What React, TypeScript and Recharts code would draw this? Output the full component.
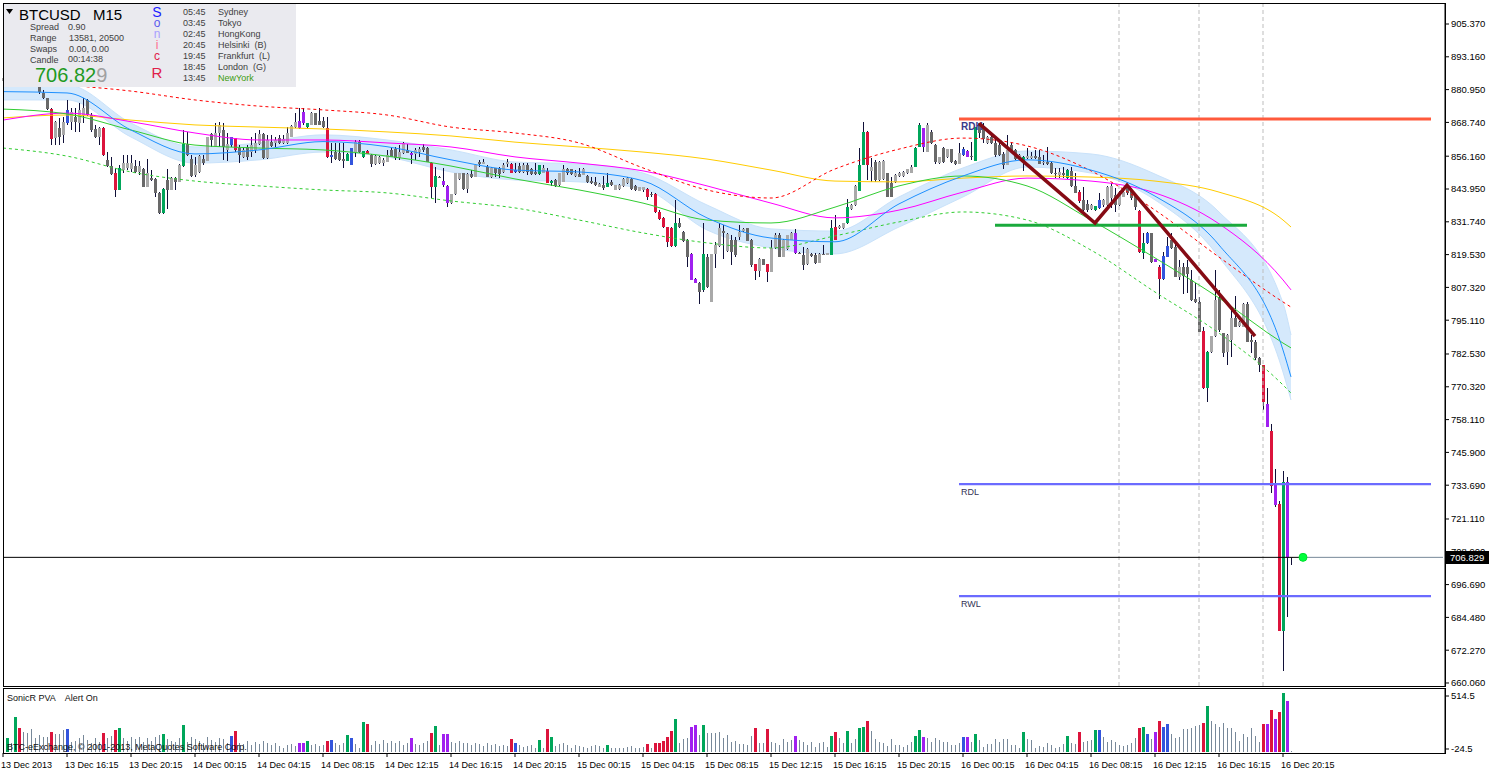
import React from 'react'
import { ComposedChart, Bar, Line, Area, XAxis, YAxis, ReferenceLine, ReferenceDot } from 'recharts'

const FONT = '"Liberation Sans", Arial, sans-serif'
const SLOTS = 361

// M15 candles: [open, high, low, close, type]  u/d plain up/down, G/R climax, B/P rising volume
const candlesA = [
  [884.0, 886.0, 883.2, 885.2, 'u'], [885.0, 889.5, 884.6, 888.6, 'G'], [888.5, 890.0, 887.0, 889.2, 'u'], [888.8, 894.0, 888.0, 892.7, 'G'],
  [892.5, 893.0, 884.5, 885.5, 'R'], [885.6, 887.5, 883.5, 884.4, 'd'], [884.4, 887.0, 883.6, 886.2, 'u'], [886.0, 886.5, 883.3, 883.9, 'd'],
  [883.9, 885.8, 883.0, 885.0, 'u'], [885.0, 885.8, 879.5, 880.0, 'd'], [879.8, 880.8, 877.3, 877.7, 'd'], [877.7, 877.9, 873.3, 873.6, 'd'],
  [873.6, 874.0, 860.3, 862.7, 'R'], [862.8, 869.3, 860.3, 869.0, 'u'], [866.5, 870.2, 860.3, 863.2, 'd'], [864.0, 870.9, 860.9, 869.0, 'u'],
  [868.4, 877.1, 867.8, 873.4, 'B'], [869.0, 874.0, 865.9, 872.7, 'u'], [870.9, 874.0, 865.3, 869.0, 'd'], [868.4, 875.8, 865.3, 873.4, 'u'],
  [871.5, 877.7, 868.4, 874.0, 'u'], [877.1, 877.3, 871.3, 871.5, 'd'], [871.5, 872.1, 865.3, 865.9, 'd'], [866.2, 867.8, 863.0, 863.2, 'd'],
  [863.2, 867.1, 860.3, 866.5, 'u'], [866.5, 867.1, 856.4, 856.6, 'R'], [854.7, 857.9, 852.2, 852.5, 'd'], [852.5, 856.0, 849.2, 849.5, 'd'],
  [850.0, 851.6, 840.9, 843.6, 'R'], [843.6, 852.9, 843.4, 851.6, 'G'], [851.0, 856.6, 849.8, 853.5, 'u'], [851.6, 856.6, 851.0, 853.5, 'u'],
  [851.3, 856.6, 850.4, 853.5, 'u'], [852.5, 854.7, 849.8, 850.4, 'd'], [850.4, 854.5, 849.2, 852.5, 'u'], [851.3, 851.6, 844.6, 844.8, 'd'],
  [844.8, 855.0, 844.6, 850.0, 'u'], [847.9, 851.0, 847.1, 847.3, 'd'], [847.5, 847.9, 841.1, 842.3, 'd'], [842.3, 842.9, 834.7, 834.9, 'd'],
  [834.9, 844.2, 834.7, 843.8, 'G'], [847.3, 851.3, 836.4, 843.6, 'd'], [843.6, 848.5, 843.4, 847.9, 'u'], [847.9, 848.3, 843.6, 846.7, 'd'],
  [846.7, 853.1, 846.5, 852.9, 'u'], [852.5, 865.9, 852.3, 860.7, 'G'], [860.7, 865.3, 856.4, 856.6, 'd'], [855.0, 856.6, 848.5, 848.8, 'd'],
  [849.2, 856.0, 848.5, 852.9, 'u'], [850.4, 856.6, 850.0, 856.2, 'u'], [855.0, 856.6, 852.9, 853.5, 'd'], [854.5, 863.4, 854.3, 863.2, 'u'],
  [864.4, 864.7, 859.7, 862.2, 'd'], [859.7, 868.4, 859.5, 864.7, 'u'], [864.7, 869.0, 859.7, 867.8, 'u'], [865.9, 868.6, 854.7, 859.7, 'd'],
  [858.5, 864.7, 854.5, 860.7, 'u'], [860.3, 863.4, 859.7, 863.2, 'B'], [862.8, 863.0, 857.8, 858.5, 'R'], [859.1, 860.3, 853.5, 856.6, 'd'],
  [856.0, 859.7, 855.4, 858.5, 'u'], [859.7, 860.3, 854.7, 856.0, 'd'], [857.9, 863.4, 856.0, 860.3, 'u'], [858.5, 864.7, 857.2, 861.2, 'u'],
  [860.7, 865.9, 860.5, 864.4, 'u'], [864.4, 864.7, 855.2, 855.4, 'd'], [855.4, 864.0, 855.2, 862.2, 'u'], [861.6, 864.0, 859.7, 860.0, 'd'],
  [860.9, 863.4, 859.7, 862.2, 'u'], [862.8, 864.0, 860.7, 860.9, 'd'], [860.9, 864.0, 860.7, 862.4, 'u'], [860.9, 867.2, 860.7, 864.7, 'u'],
  [863.4, 867.8, 863.2, 867.4, 'u'], [867.2, 872.1, 866.5, 869.0, 'u'], [869.4, 874.0, 866.3, 866.5, 'P'], [872.7, 874.0, 867.8, 868.4, 'P'],
  [866.9, 868.6, 866.7, 868.4, 'G'], [867.8, 872.7, 867.6, 872.1, 'u'], [872.1, 872.4, 867.6, 867.8, 'd'], [869.4, 874.0, 867.6, 867.8, 'd'],
]

const candlesB = [
  [869.4, 870.6, 866.7, 866.9, 'd'], [866.5, 870.6, 855.5, 855.7, 'R'], [855.9, 860.9, 853.8, 856.6, 'B'], [857.9, 860.9, 854.7, 855.0, 'd'],
  [857.2, 860.9, 854.5, 854.7, 'd'], [855.0, 860.9, 851.6, 854.5, 'd'], [854.5, 857.2, 854.3, 857.0, 'G'], [852.9, 859.1, 852.7, 859.1, 'B'],
  [857.9, 862.2, 856.0, 861.6, 'u'], [861.6, 862.2, 857.2, 857.9, 'd'], [855.7, 858.2, 855.5, 858.2, 'G'], [858.2, 858.4, 857.0, 857.0, 'R'],
  [856.6, 856.8, 852.3, 853.3, 'd'], [853.3, 856.6, 852.9, 856.2, 'u'], [853.5, 856.2, 853.3, 856.0, 'u'], [853.5, 855.4, 852.5, 854.7, 'u'],
  [854.1, 858.5, 853.9, 856.6, 'u'], [858.5, 859.1, 855.7, 856.0, 'd'], [858.7, 859.7, 854.7, 855.4, 'd'], [855.4, 860.3, 854.7, 857.9, 'u'],
  [857.2, 861.6, 857.0, 860.9, 'u'], [858.5, 860.7, 857.2, 857.5, 'd'], [857.5, 857.9, 853.3, 856.6, 'P'], [857.0, 859.1, 854.7, 858.5, 'u'],
  [857.8, 859.7, 856.0, 858.7, 'u'], [859.7, 860.7, 857.8, 858.5, 'd'], [859.1, 859.7, 853.9, 854.1, 'd'], [853.8, 854.1, 840.5, 844.8, 'R'],
  [844.8, 852.3, 838.6, 848.8, 'G'], [848.5, 848.8, 848.0, 848.3, 'd'], [847.0, 851.6, 844.8, 845.4, 'P'], [845.1, 845.3, 837.1, 838.6, 'P'],
  [838.6, 842.1, 838.4, 842.1, 'u'], [842.1, 850.0, 841.7, 849.8, 'u'], [847.5, 850.0, 847.3, 849.8, 'u'], [849.8, 850.0, 843.6, 843.8, 'd'],
  [843.8, 849.8, 842.3, 849.5, 'u'], [849.5, 851.0, 847.9, 848.3, 'd'], [848.5, 852.9, 848.3, 852.9, 'u'], [854.1, 854.7, 852.3, 853.3, 'd'],
  [853.3, 855.0, 853.3, 854.1, 'u'], [852.3, 852.9, 848.3, 848.3, 'd'], [848.3, 852.3, 847.9, 851.6, 'u'], [851.6, 851.8, 848.3, 849.8, 'd'],
  [851.6, 852.3, 847.9, 849.5, 'd'], [850.4, 853.5, 849.8, 852.9, 'u'], [853.3, 855.0, 852.3, 854.1, 'u'], [853.3, 853.5, 849.8, 850.0, 'R'],
  [850.4, 853.8, 850.0, 851.0, 'B'], [852.5, 853.5, 850.0, 850.4, 'd'], [850.4, 853.5, 850.0, 852.9, 'u'], [852.9, 853.5, 849.2, 850.4, 'd'],
  [851.3, 851.6, 849.2, 849.5, 'd'], [850.4, 853.5, 849.2, 849.5, 'd'], [849.5, 852.9, 849.2, 852.9, 'G'], [850.0, 852.9, 849.8, 851.6, 'u'],
  [850.8, 851.6, 846.1, 846.3, 'R'], [846.3, 847.3, 845.1, 847.1, 'G'], [847.3, 847.5, 844.6, 845.1, 'd'], [845.4, 849.8, 845.1, 849.8, 'u'],
  [846.7, 852.9, 846.5, 851.3, 'u'], [851.3, 851.6, 849.2, 849.8, 'd'], [851.3, 851.5, 849.2, 849.5, 'd'], [848.8, 851.0, 848.5, 850.0, 'u'],
  [849.5, 851.6, 848.3, 848.5, 'd'], [849.2, 851.6, 849.0, 851.3, 'u'], [848.8, 849.2, 846.1, 846.7, 'd'], [847.1, 848.5, 845.8, 846.3, 'd'],
  [846.7, 848.5, 845.1, 845.4, 'd'], [844.8, 846.3, 844.6, 845.8, 'u'], [845.4, 848.8, 843.6, 844.2, 'd'], [844.8, 849.8, 844.6, 846.3, 'G'],
  [846.7, 847.3, 845.1, 845.4, 'd'], [843.6, 845.6, 843.4, 845.4, 'u'], [843.8, 845.8, 843.6, 845.4, 'u'], [845.1, 847.9, 844.8, 847.5, 'u'],
  [846.3, 848.5, 845.8, 847.9, 'u'], [847.5, 847.9, 843.6, 843.8, 'd'], [845.1, 845.4, 843.3, 843.6, 'd'], [843.3, 844.8, 843.1, 844.6, 'u'],
]

const candlesC = [
  [843.6, 844.8, 843.0, 844.6, 'u'], [843.8, 844.2, 839.9, 840.9, 'R'], [842.1, 842.9, 841.1, 841.7, 'd'], [842.1, 842.3, 834.9, 835.5, 'R'],
  [835.5, 836.1, 832.4, 832.7, 'R'], [833.1, 833.7, 829.3, 829.7, 'R'], [829.7, 829.9, 822.5, 824.3, 'R'], [829.3, 829.7, 822.5, 822.7, 'R'],
  [822.7, 839.9, 822.5, 831.2, 'G'], [831.4, 833.1, 829.3, 829.7, 'd'], [828.1, 828.3, 824.3, 824.7, 'd'], [825.0, 825.2, 814.8, 818.8, 'd'],
  [819.8, 820.0, 809.9, 810.1, 'P'], [810.3, 810.7, 808.8, 809.1, 'P'], [809.1, 809.5, 801.1, 805.7, 'd'], [806.4, 831.2, 805.7, 819.8, 'G'],
  [818.8, 819.8, 807.0, 807.6, 'd'], [802.0, 819.8, 801.8, 819.8, 'u'], [819.8, 824.3, 814.4, 823.1, 'u'], [822.7, 831.2, 822.5, 829.3, 'u'],
  [828.4, 830.5, 817.8, 827.7, 'd'], [821.0, 827.5, 820.6, 827.2, 'u'], [825.0, 826.8, 815.7, 820.6, 'd'], [825.0, 826.2, 818.8, 819.4, 'd'],
  [826.0, 830.5, 825.0, 828.1, 'u'], [828.4, 829.3, 828.1, 828.9, 'u'], [829.3, 829.5, 824.5, 824.7, 'd'], [825.0, 825.2, 815.0, 815.7, 'd'],
  [816.0, 816.2, 810.1, 813.6, 'R'], [813.6, 818.1, 811.3, 818.0, 'u'], [817.8, 818.0, 815.5, 815.7, 'd'], [816.0, 816.2, 809.5, 813.2, 'R'],
  [813.2, 825.0, 813.0, 821.9, 'u'], [821.9, 827.5, 821.5, 826.8, 'u'], [826.8, 827.7, 818.5, 818.8, 'd'], [818.8, 825.2, 818.6, 825.0, 'u'],
  [821.5, 827.0, 821.3, 826.8, 'u'], [825.0, 827.9, 824.8, 827.7, 'u'], [827.5, 828.9, 819.8, 820.0, 'P'], [820.3, 820.5, 819.6, 819.8, 'd'],
  [819.4, 822.5, 813.8, 815.7, 'd'], [816.0, 821.9, 815.7, 821.5, 'u'], [819.8, 820.2, 818.8, 819.0, 'd'], [819.4, 820.0, 816.0, 816.3, 'd'],
  [816.5, 820.0, 816.3, 819.8, 'u'], [819.8, 823.1, 819.2, 819.4, 'd'], [819.4, 820.2, 819.2, 820.0, 'u'], [819.4, 832.4, 819.2, 829.3, 'G'],
  [829.9, 834.3, 824.8, 825.0, 'R'], [829.3, 830.4, 829.1, 830.2, 'u'], [829.3, 831.4, 829.1, 831.2, 'u'], [831.2, 840.1, 831.0, 837.1, 'G'],
  [836.4, 838.2, 836.2, 838.0, 'u'], [838.0, 845.3, 837.8, 845.1, 'u'], [843.3, 859.1, 843.1, 852.9, 'G'], [852.9, 869.0, 852.7, 865.3, 'G'],
  [865.3, 865.5, 847.3, 852.9, 'R'], [850.8, 855.4, 846.7, 852.3, 'u'], [854.1, 854.7, 846.7, 847.3, 'd'], [847.3, 854.3, 847.1, 854.1, 'u'],
  [847.5, 854.6, 847.3, 854.4, 'u'], [849.8, 850.0, 840.9, 841.1, 'd'], [846.1, 848.5, 840.9, 841.1, 'd'], [846.7, 849.5, 846.1, 849.2, 'u'],
  [848.8, 850.2, 848.6, 850.0, 'u'], [848.8, 850.6, 848.6, 850.4, 'u'], [849.8, 851.5, 849.6, 851.3, 'u'], [850.0, 852.9, 849.8, 852.3, 'u'],
  [852.3, 859.7, 852.1, 859.1, 'G'], [859.7, 868.6, 859.5, 867.8, 'G'], [866.5, 866.7, 857.9, 859.7, 'P'], [857.9, 868.4, 857.7, 867.8, 'u'],
  [865.3, 865.9, 860.7, 860.9, 'd'], [860.3, 860.7, 853.3, 854.1, 'd'], [853.5, 855.9, 853.3, 855.7, 'u'], [859.1, 859.7, 853.5, 854.1, 'd'],
  [855.7, 858.9, 855.5, 858.7, 'u'], [858.7, 858.9, 853.5, 854.1, 'd'], [854.5, 854.7, 852.9, 853.3, 'd'], [853.3, 861.0, 853.1, 857.2, 'u'],
]

const candlesD = [
  [856.6, 859.7, 856.4, 858.7, 'B'], [858.2, 858.5, 855.7, 856.0, 'P'], [856.2, 861.6, 854.7, 855.7, 'd'], [854.5, 867.1, 854.3, 866.9, 'G'],
  [868.4, 868.6, 862.8, 864.7, 'd'], [866.5, 868.4, 861.0, 862.4, 'd'], [861.0, 863.6, 860.8, 863.4, 'u'], [863.4, 864.0, 860.8, 861.0, 'd'],
  [861.0, 862.8, 856.0, 856.6, 'd'], [860.3, 861.0, 856.4, 856.6, 'd'], [857.0, 857.8, 851.3, 852.9, 'd'], [852.9, 864.0, 852.7, 858.5, 'u'],
  [860.3, 861.0, 857.5, 857.8, 'd'], [858.5, 858.7, 854.8, 855.0, 'd'], [855.0, 856.8, 854.8, 856.6, 'u'], [854.5, 856.2, 850.8, 856.0, 'G'],
  [855.4, 859.1, 855.0, 856.2, 'u'], [855.4, 857.8, 855.0, 856.2, 'u'], [856.2, 858.5, 855.0, 855.4, 'd'], [856.0, 858.5, 853.1, 853.3, 'd'],
  [853.5, 856.6, 852.9, 854.1, 'u'], [854.1, 859.7, 852.9, 853.3, 'd'], [853.5, 854.1, 849.5, 849.8, 'd'], [849.8, 851.6, 847.9, 849.4, 'd'],
  [849.2, 851.6, 847.9, 850.4, 'u'], [849.8, 852.3, 847.9, 849.2, 'd'], [847.9, 851.3, 847.7, 851.0, 'G'], [850.8, 852.3, 844.8, 845.1, 'd'],
  [845.1, 849.8, 842.3, 842.6, 'd'], [843.0, 843.6, 838.9, 839.6, 'R'], [839.9, 844.6, 835.9, 836.1, 'd'], [838.4, 839.9, 835.5, 836.1, 'd'],
  [836.4, 838.2, 836.2, 838.0, 'u'], [836.1, 837.8, 835.9, 837.6, 'G'], [836.8, 842.3, 836.5, 839.9, 'B'], [838.0, 840.1, 837.4, 839.9, 'u'],
  [838.0, 845.0, 837.8, 844.8, 'u'], [840.5, 846.3, 836.8, 845.1, 'u'], [841.7, 844.2, 835.5, 838.0, 'd'], [838.0, 843.2, 837.8, 843.0, 'u'],
  [841.1, 843.2, 840.9, 843.0, 'u'], [844.8, 845.4, 841.7, 842.3, 'd'], [843.6, 844.2, 839.9, 840.5, 'd'], [841.7, 842.3, 836.1, 837.4, 'd'],
  [835.9, 836.1, 820.0, 820.6, 'R'], [820.0, 827.5, 817.8, 823.7, 'G'], [823.7, 828.1, 823.5, 827.5, 'B'], [827.5, 827.7, 816.5, 816.9, 'd'],
  [817.8, 817.9, 816.8, 816.9, 'P'], [815.0, 815.7, 802.9, 810.3, 'R'], [810.3, 820.6, 810.1, 819.0, 'B'], [818.8, 826.2, 818.5, 822.7, 'B'],
  [825.0, 827.5, 821.5, 821.9, 'd'], [822.5, 823.7, 811.1, 811.3, 'd'], [811.3, 817.5, 810.1, 815.0, 'u'], [815.0, 816.3, 805.0, 811.5, 'd'],
  [815.0, 817.5, 805.1, 812.3, 'd'], [810.1, 813.8, 802.4, 802.6, 'd'], [802.9, 808.8, 801.4, 802.0, 'd'], [802.0, 803.9, 790.6, 790.8, 'd'],
  [791.2, 792.7, 769.5, 769.7, 'R'], [769.7, 783.6, 764.8, 783.4, 'G'], [783.4, 789.4, 783.0, 789.2, 'u'], [789.2, 813.8, 789.0, 802.6, 'u'],
  [803.2, 806.4, 790.8, 791.5, 'd'], [790.2, 790.4, 781.5, 782.8, 'd'], [783.4, 789.8, 778.4, 789.6, 'u'], [787.7, 799.5, 781.5, 795.8, 'u'],
  [795.8, 804.1, 792.5, 792.7, 'd'], [792.9, 794.9, 792.5, 794.6, 'u'], [792.7, 801.4, 792.5, 801.1, 'u'], [801.1, 802.0, 786.9, 787.1, 'd'],
  [787.7, 789.6, 782.8, 787.1, 'd'], [787.1, 787.7, 780.3, 780.9, 'd'], [780.9, 781.5, 775.9, 778.4, 'd'], [778.4, 778.6, 761.7, 764.8, 'R'],
  [763.9, 769.8, 755.3, 755.5, 'P'], [754.0, 756.6, 730.8, 733.4, 'R'], [733.8, 739.6, 725.7, 726.3, 'P'], [726.7, 727.9, 679.3, 679.5, 'R'],
  [679.5, 739.1, 664.6, 735.0, 'G'], [735.0, 736.9, 684.7, 706.5, 'P'], [706.5, 706.9, 703.8, 706.829, 'u'],
]

// SonicR PVA volume, one value per candle
const volA = [16, 84, 33, 297, 185, 152, 141, 175, 84, 118, 101, 94, 145, 128, 128, 169, 175, 50, 60, 84,
  118, 67, 33, 84, 50, 135, 84, 107, 169, 185, 84, 60, 101, 74, 94, 50, 84, 60, 94, 118,
  128, 74, 60, 50, 84, 220, 50, 101, 74, 60, 33, 94, 67, 50, 84, 74, 40, 107, 158, 40,
  26, 57, 16, 50, 26, 57, 33, 16, 40, 6, -18, 16, 26, 6, 40, 40, 57, 16, 26, 6]
const volB = [16, 57, 67, 33, 16, 40, 118, 84, 26, -10, 253, 230, 16, 60, 26, 67, 40, 60, 40, 57,
  16, 40, 84, 26, 16, 40, 57, 141, 209, 16, 128, 128, 50, 40, 60, 33, 40, 16, 33, 26,
  6, 33, 16, 26, 6, 16, 6, 74, 40, 16, 0, 6, 16, -10, 67, -18, 179, 94, 6, 26,
  40, 16, -10, 16, 6, 0, -18, 6, 16, 6, -10, 16, -18, -10, -18, -10, 0, 6, -10, -18]
const volC = [0, 26, -10, 40, 40, 60, 101, 158, 277, 40, 74, 84, 196, 220, 118, 220, 135, 135, 135, 152,
  84, 118, 50, 57, 26, 26, 16, 107, 185, 33, 40, 179, 50, 40, 16, 74, 50, 67, 107, 67,
  50, 16, 50, 0, 40, 50, 0, 107, 145, 84, 33, 158, 33, 74, 185, 196, 260, 158, 74, 50,
  40, 6, 74, 16, 16, 0, 16, 50, 107, 169, 94, 84, 50, 84, 67, 50, 50, 16, 16, 33]
const volD = [94, 94, 50, 128, 67, 0, 26, 26, 74, 50, 74, 74, 16, 16, -18, 145, 74, 67, -18, 6,
  0, 40, 16, -18, 0, 26, 107, 33, 26, 145, 50, 60, 67, 169, 169, 94, 50, 67, 50, 16,
  6, 16, 33, 84, 185, 196, 128, 74, 145, 260, 196, 230, 128, 84, 94, 175, 175, 185, 213, 219,
  243, 413, 260, 226, 202, 243, 185, 185, 145, 60, 128, 94, 185, 107, 50, 230, 230, 372, 277, 348,
  541, 463, -45]

// moving averages, read at the time ticks and at the last bar
const maIdx = [0, 16, 32, 48, 64, 80, 96, 112, 128, 144, 160, 176, 192, 208, 224, 240, 256, 272, 288, 304, 320, 322]
const yellowMA = [870.4, 871.5, 869.6, 867.8, 867.0, 866.3, 865.2, 863.7, 861.4, 859.6, 857.7, 855.1, 851.0, 846.9, 846.6, 848.0, 848.8, 848.4, 846.9, 842.8, 832.4, 829.8]
const magentaMA = [869.6, 872.2, 869.0, 864.8, 862.2, 862.2, 861.1, 859.6, 855.9, 853.6, 850.7, 845.1, 838.7, 833.2, 836.1, 842.8, 848.0, 846.9, 842.5, 831.0, 810.1, 806.4]
const greenMA = [873.7, 871.9, 865.9, 860.3, 859.2, 858.5, 856.2, 852.5, 847.7, 843.6, 838.7, 832.4, 831.3, 837.2, 845.1, 848.8, 845.1, 832.4, 818.3, 803.4, 786.6, 784.8]
const greenDashMA = [859.2, 856.2, 850.3, 846.9, 845.1, 843.6, 842.5, 839.5, 836.9, 832.4, 827.6, 823.9, 822.0, 826.5, 831.7, 835.4, 832.4, 821.2, 805.6, 790.3, 771.0, 768.0]
const redDashMA = [885.3, 882.7, 880.4, 877.1, 874.8, 873.4, 871.5, 867.0, 864.8, 861.1, 851.8, 843.6, 840.6, 851.4, 858.8, 862.9, 860.0, 850.7, 836.1, 818.6, 801.9, 800.0]
const blueMA = [880.2, 879.7, 865.9, 857.0, 858.5, 861.6, 859.7, 854.8, 851.0, 850.3, 847.0, 833.2, 825.7, 824.3, 838.4, 848.8, 854.8, 851.0, 841.3, 823.1, 784.0, 774.0]
const bandHi = [882.0, 882.7, 868.5, 859.6, 861.1, 864.1, 862.2, 858.5, 854.0, 853.3, 849.9, 838.0, 829.1, 828.3, 841.0, 851.8, 858.1, 857.0, 849.5, 835.4, 801.5, 789.6]
const bandLo = [877.1, 877.1, 863.3, 853.6, 854.8, 857.7, 855.9, 850.3, 847.3, 846.6, 844.0, 828.7, 822.0, 819.8, 829.8, 841.0, 852.1, 849.9, 839.9, 818.6, 775.8, 765.4]

// drawn objects
const zigIdx = [244, 273, 281, 313]
const zigVal = [868.4, 831.3, 845.4, 789.2]
const sessionIdx = [279, 299, 315]
const rdhLevel = 870.0
const supportLevel = 830.5
const rdlLevel = 734.1
const rwlLevel = 692.4
const bid = 706.829

const priceTicks = [905.37, 893.16, 880.95, 868.74, 856.16, 843.95, 831.74, 819.53, 807.32, 795.11, 782.53, 770.32, 758.11, 745.9, 733.69, 721.11, 708.9, 696.69, 684.48, 672.27, 660.06]
const volTicks = [514.5, -24.5]
const timeTickIdx = [0, 16, 32, 48, 64, 80, 96, 112, 128, 144, 160, 176, 192, 208, 224, 240, 256, 272, 288, 304, 320]
const timeLabels = ['13 Dec 2013', '13 Dec 16:15', '13 Dec 20:15', '14 Dec 00:15', '14 Dec 04:15', '14 Dec 08:15', '14 Dec 12:15',
  '14 Dec 16:15', '14 Dec 20:15', '15 Dec 00:15', '15 Dec 04:15', '15 Dec 08:15', '15 Dec 12:15', '15 Dec 16:15', '15 Dec 20:15',
  '16 Dec 00:15', '16 Dec 04:15', '16 Dec 08:15', '16 Dec 12:15', '16 Dec 16:15', '16 Dec 20:15']

const sessions = [['05:45', 'Sydney'], ['03:45', 'Tokyo'], ['02:45', 'HongKong'], ['20:45', 'Helsinki  (B)'], ['19:45', 'Frankfurt  (L)'], ['18:45', 'London  (G)'], ['13:45', 'NewYork']]
const sonicLetters = [['S', '#2020ff'], ['o', '#5a5aee'], ['n', '#a8a0ff'], ['i', '#ff7090'], ['c', '#e0204a'], ['R', '#e0204a']]

const PRICE_DOMAIN = [658.94, 913.19]
const VOL_DOMAIN = [-65.2, 585.7]
const VOL_FLOOR = -50

const bodyColors: Record<string, string> = { u: '#a9a9a9', d: '#696969', G: '#00a65a', R: '#dc143c', B: '#3355dd', P: '#a020f0' }
const WICK = '#101038'

const candles: any[] = [...candlesA, ...candlesB, ...candlesC, ...candlesD]
const vols = [...volA, ...volB, ...volC, ...volD]

const rows = Array.from({ length: SLOTS }, (_, i) => {
  const c = candles[i]
  const m = maIdx.indexOf(i)
  const z = zigIdx.indexOf(i)
  return {
    i,
    o: c ? c[0] : null,
    h: c ? c[1] : null,
    l: c ? c[2] : null,
    c: c ? c[3] : null,
    t: c ? c[4] : null,
    v: i < vols.length ? vols[i] : null,
    yellow: m >= 0 ? yellowMA[m] : null,
    magenta: m >= 0 ? magentaMA[m] : null,
    green: m >= 0 ? greenMA[m] : null,
    greenDash: m >= 0 ? greenDashMA[m] : null,
    redDash: m >= 0 ? redDashMA[m] : null,
    blue: m >= 0 ? blueMA[m] : null,
    band: m >= 0 ? [bandLo[m], bandHi[m]] : null,
    zig: z >= 0 ? zigVal[z] : null,
  }
})

function Candle(props: any) {
  const { x, y, width, height, payload } = props
  if (!payload || payload.h == null) return null
  const cx = Math.round(x + width / 2)
  const top = Math.min(y, y + height)
  const span = Math.abs(height)
  const k = span > 0.5 ? span / (payload.h - payload.l) : 683 / (PRICE_DOMAIN[1] - PRICE_DOMAIN[0])
  const yo = top + (payload.h - payload.o) * k
  const yc = top + (payload.h - payload.c) * k
  const bt = Math.min(yo, yc)
  const bh = Math.max(1, Math.abs(yc - yo))
  return (
    <g shapeRendering="crispEdges">
      <rect x={cx} y={top} width={1} height={Math.max(1, span)} fill={WICK} />
      <rect x={cx - 1} y={bt} width={3} height={bh} fill={bodyColors[payload.t]} />
    </g>
  )
}

function VolumeBar(props: any) {
  const { x, y, width, height, payload } = props
  if (!payload || payload.v == null) return null
  const cx = Math.round(x + width / 2)
  const top = Math.min(y, y + height)
  const plain = payload.t === 'u' || payload.t === 'd'
  return (
    <rect x={plain ? cx : cx - 1} y={top} width={plain ? 1 : 3} height={Math.max(1, Math.abs(height))}
      fill={plain ? '#778899' : bodyColors[payload.t]} shapeRendering="crispEdges" />
  )
}

function TimeTick(props: any) {
  const { x, y, payload } = props
  const label = timeLabels[timeTickIdx.indexOf(payload.value)]
  return <text x={x - 2} y={y + 9} fontSize={9} fontFamily={FONT} fill="#000">{label}</text>
}

const lineLabel = (text: string, bold: boolean) => (p: any) => (
  <text x={p.viewBox.x + 2} y={p.viewBox.y + 10.5} fontSize={bold ? 10 : 9} fontWeight={bold ? 700 : 400}
    fontFamily={FONT} fill={bold ? '#3a3a8a' : '#333355'}>{text}</text>
)

function Txt({ x, cy, size, color = '#404040', children }: any) {
  const lh = Math.round(size * 0.85)
  return (
    <div style={{ position: 'absolute', left: x, top: cy - lh / 2, fontSize: size, lineHeight: `${lh}px`, color, fontFamily: FONT, whiteSpace: 'pre' }}>
      {children}
    </div>
  )
}

const axisTick = { fontSize: 9.5, fill: '#000', fontFamily: FONT }

export default function App() {
  return (
    <div style={{ position: 'absolute', left: 0, top: 0, width: 1489, height: 773, background: '#fff', overflow: 'hidden' }}>
      <div style={{ position: 'absolute', left: 0, top: 0 }}>
        <ComposedChart width={1489} height={690} data={rows} margin={{ top: 3, right: 0, bottom: 4, left: 1 }}>
          <XAxis dataKey="i" hide />
          <YAxis orientation="right" width={44} domain={PRICE_DOMAIN} allowDataOverflow ticks={priceTicks} interval={0}
            tickFormatter={(v: number) => v.toFixed(3)} tick={axisTick} tickSize={4} tickMargin={2}
            tickLine={{ stroke: '#000' }} axisLine={{ stroke: '#000' }} />
          {sessionIdx.map((s) => (
            <ReferenceLine key={s} x={s} stroke="#bdbdbd" strokeDasharray="4 3" />
          ))}
          <Area dataKey="band" type="monotone" connectNulls fill="#d5e9fc" fillOpacity={1} stroke="#c9e2fa" strokeWidth={1} isAnimationActive={false} />
          <Line dataKey="yellow" type="monotone" connectNulls stroke="#ffcc00" strokeWidth={1} dot={false} isAnimationActive={false} />
          <Line dataKey="magenta" type="monotone" connectNulls stroke="#ff00ff" strokeWidth={1} dot={false} isAnimationActive={false} />
          <Line dataKey="green" type="monotone" connectNulls stroke="#32cd32" strokeWidth={1} dot={false} isAnimationActive={false} />
          <Line dataKey="greenDash" type="monotone" connectNulls stroke="#32cd32" strokeWidth={1} strokeDasharray="3 3" dot={false} isAnimationActive={false} />
          <Line dataKey="redDash" type="monotone" connectNulls stroke="#ff0000" strokeWidth={1} strokeDasharray="3 3" dot={false} isAnimationActive={false} />
          <Line dataKey="blue" type="monotone" connectNulls stroke="#1e90ff" strokeWidth={1} dot={false} isAnimationActive={false} />
          <Bar dataKey={(r: any) => (r.h == null ? null : [r.l, r.h])} shape={(p: any) => <Candle {...p} />} isAnimationActive={false} />
          <ReferenceLine segment={[{ x: 0, y: bid }, { x: 325, y: bid }]} stroke="#000" strokeWidth={1} />
          <ReferenceLine segment={[{ x: 325, y: bid }, { x: 360, y: bid }]} stroke="#778899" strokeWidth={1} />
          <ReferenceDot x={325} y={bid} r={4} fill="#00ff3c" stroke="#00e030" />
          <ReferenceLine segment={[{ x: 239, y: rdhLevel }, { x: 357, y: rdhLevel }]} stroke="#ff5a3c" strokeWidth={3} label={lineLabel('RDH', true)} />
          <ReferenceLine segment={[{ x: 248, y: supportLevel }, { x: 311, y: supportLevel }]} stroke="#1aaa3c" strokeWidth={3} />
          <ReferenceLine segment={[{ x: 239, y: rdlLevel }, { x: 357, y: rdlLevel }]} stroke="#6b6bff" strokeWidth={2.2} label={lineLabel('RDL', false)} />
          <ReferenceLine segment={[{ x: 239, y: rwlLevel }, { x: 357, y: rwlLevel }]} stroke="#6b6bff" strokeWidth={2.2} label={lineLabel('RWL', false)} />
          <Line dataKey="zig" type="linear" connectNulls stroke="#860b14" strokeWidth={3.5} dot={false} isAnimationActive={false} />
        </ComposedChart>
      </div>

      <div style={{ position: 'absolute', left: 0, top: 688 }}>
        <ComposedChart width={1489} height={85} data={rows} margin={{ top: 1, right: 0, bottom: 0, left: 1 }}>
          <XAxis dataKey="i" ticks={timeTickIdx} interval={0} height={20} tickSize={4} tickMargin={2}
            tickLine={{ stroke: '#000' }} axisLine={false} tick={(p: any) => <TimeTick {...p} />} />
          <YAxis orientation="right" width={44} domain={VOL_DOMAIN} allowDataOverflow ticks={volTicks} interval={0}
            tickFormatter={(v: number) => v.toFixed(1)} tick={axisTick} tickSize={4} tickMargin={2}
            tickLine={{ stroke: '#000' }} axisLine={{ stroke: '#000' }} />
          <Bar dataKey={(r: any) => (r.v == null ? null : [VOL_FLOOR, r.v])} shape={(p: any) => <VolumeBar {...p} />} isAnimationActive={false} />
        </ComposedChart>
      </div>

      {/* panel frames */}
      <div style={{ position: 'absolute', left: 3, top: 3, width: 1443, height: 684, border: '1px solid #000', boxSizing: 'border-box', pointerEvents: 'none' }} />
      <div style={{ position: 'absolute', left: 3, top: 688, width: 1443, height: 66, border: '1px solid #000', boxSizing: 'border-box', pointerEvents: 'none' }} />

      {/* bid price tag */}
      <div style={{ position: 'absolute', left: 1446, top: 551, width: 43, height: 13, background: '#000', color: '#fff', fontFamily: FONT, fontSize: 9.5, lineHeight: '13px', paddingLeft: 4, boxSizing: 'border-box' }}>
        706.829
      </div>

      {/* info panel */}
      <div style={{ position: 'absolute', left: 4, top: 4, width: 292, height: 83, background: '#eaeaef' }} />
      <svg style={{ position: 'absolute', left: 6, top: 9 }} width={8} height={6}>
        <polygon points="0,0 7,0 3.5,5" fill="#000" />
      </svg>
      <Txt x={19} cy={14} size={15} color="#000">BTCUSD</Txt>
      <Txt x={93} cy={14} size={15} color="#000">M15</Txt>
      <Txt x={30} cy={27} size={9}>Spread</Txt>
      <Txt x={68} cy={27} size={9}>0.90</Txt>
      <Txt x={30} cy={38} size={9}>Range</Txt>
      <Txt x={69} cy={38} size={9}>13581, 20500</Txt>
      <Txt x={30} cy={49} size={9}>Swaps</Txt>
      <Txt x={69} cy={49} size={9}>0.00, 0.00</Txt>
      <Txt x={30} cy={60} size={9}>Candle</Txt>
      <Txt x={68} cy={59} size={9}>00:14:38</Txt>
      <Txt x={35} cy={75} size={20} color="#1f9a1f">706.82<span style={{ color: '#a0a0a0' }}>9</span></Txt>
      {/* vertical Sonic logo, one block of stacked letters */}
      <div style={{ position: 'absolute', left: 150, top: 7, width: 14, fontFamily: FONT, textAlign: 'center' }}>
        {sonicLetters.map(([ch, col], k) => (
          <div key={k} style={{ color: col, fontSize: k === 0 ? 14 : k === 5 ? 15 : 12, lineHeight: k === 5 ? '16px' : '11px', marginTop: k === 5 ? 3 : 0 }}>{ch}</div>
        ))}
      </div>
      {sessions.map(([t, city], k) => (
        <React.Fragment key={city}>
          <Txt x={183} cy={12 + k * 11} size={9}>{t}</Txt>
          <Txt x={218} cy={12 + k * 11} size={9} color={city === 'NewYork' ? '#3c9c0c' : '#404040'}>{city}</Txt>
        </React.Fragment>
      ))}

      {/* indicator captions */}
      <Txt x={7} cy={698} size={9} color="#111">SonicR PVA    Alert On</Txt>
      <Txt x={7} cy={747} size={9} color="#111">BTC-eExchange, © 2001-2013, MetaQuotes Software Corp.</Txt>
    </div>
  )
}
